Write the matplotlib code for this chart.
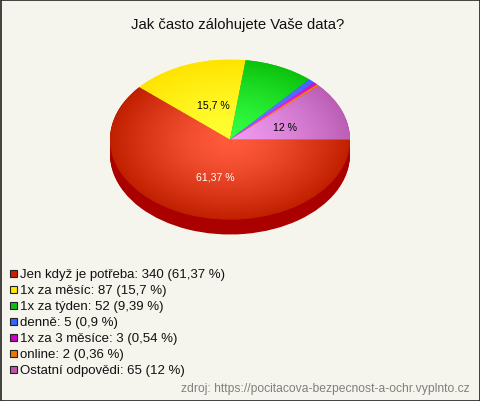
import numpy as np
import matplotlib
matplotlib.use("Agg")
import matplotlib.pyplot as plt
from matplotlib.colors import LinearSegmentedColormap
from matplotlib.patches import Rectangle

plt.rcParams['font.family'] = ['Liberation Sans', 'DejaVu Sans']

title = "Jak často zálohujete Vaše data?"
categories = ["Jen když je potřeba", "1x za měsíc", "1x za týden", "denně",
              "1x za 3 měsíce", "online", "Ostatní odpovědi"]
values = [340, 87, 52, 5, 3, 2, 65]
percent_labels = ["61,37", "15,7", "9,39", "0,9", "0,54", "0,36", "12"]
legend_colors = ["#C82000", "#FFE600", "#0FC010", "#3366FF", "#CC00CC", "#EE7700", "#BB55AA"]
center_colors = ["#FF5A3C", "#FFFF33", "#33FF44", "#6A7CFF", "#FF33FF", "#FF9933", "#F099F0"]
edge_colors = ["#C01F00", "#FFE400", "#0CC30C", "#3F66FF", "#CC11CC", "#EE7700", "#BB5FB5"]
source = "zdroj: https://pocitacova-bezpecnost-a-ochr.vyplnto.cz"

W, H = 480, 402
BG = "#F5F5EE"
fig = plt.figure(figsize=(W / 100, H / 100), dpi=100, facecolor=BG)

# pixel overlay
ov = fig.add_axes([0, 0, 1, 1], zorder=5)
ov.set_xlim(0, W)
ov.set_ylim(H, 0)
ov.axis("off")
ov.patch.set_alpha(0)

# pie: centre (230,140.5), radii 120x80, depth 15 px
cx, cy, rx, ry, depth = 230, 140.5, 120, 80, 15
ax = fig.add_axes([(cx - rx) / W, 1 - (cy + ry + depth) / H, 2 * rx / W, (2 * ry + depth) / H])
for d in range(depth, 0, -1):
    ax.pie(values, startangle=0, counterclock=False, radius=1,
           center=(0, -d / ry), colors=["#AA0000"] * len(values))
wedges, _ = ax.pie(values, startangle=0, counterclock=False, radius=1,
                   colors=edge_colors)
xx, yy = np.meshgrid(np.linspace(-1, 1, 480), np.linspace(-1, 1, 320))
r = np.clip(np.hypot(xx, yy), 0, 1) ** 1.4
for w, c0, c1 in zip(wedges, center_colors, edge_colors):
    cm = LinearSegmentedColormap.from_list("g", [c0, c1])
    im = ax.imshow(r, extent=(-1, 1, -1, 1), origin="lower", cmap=cm, vmin=0, vmax=1,
                   aspect="auto", interpolation="bilinear", zorder=3)
    im.set_clip_path(w)
ax.set_aspect("auto")
ax.set_xlim(-1, 1)
ax.set_ylim(-1 - depth / ry, 1)
ax.axis("off")

# title and slice labels
ov.text(238, 25, title, ha="center", va="center", fontsize=10.7, color="#111111")
shown = {0: (215.5, 178, "white"), 1: (213, 106, "black"), 6: (285, 128, "black")}
for i, (x, y, col) in shown.items():
    ov.text(x, y, f"{percent_labels[i]} %", ha="center", va="center", fontsize=7.6, color=col)

# legend
for i, (cat, v, p, col) in enumerate(zip(categories, values, percent_labels, legend_colors)):
    y = 275 + 16 * i
    ov.add_patch(Rectangle((9.5, y - 4.5), 7.5, 7.5, facecolor=col, edgecolor="#222222", lw=0.8))
    ov.text(20, y, f"{cat}: {v} ({p} %)", ha="left", va="center", fontsize=9.55, color="#111111")

ov.text(470, 389, source, ha="right", va="center", fontsize=8.7, color="#808080")

# frame
ov.add_patch(Rectangle((0.5, 0.5), W - 1, H - 1, fill=False, edgecolor="#222222", lw=1.2, clip_on=False))

fig.savefig("out.png", dpi=100, facecolor=BG)
